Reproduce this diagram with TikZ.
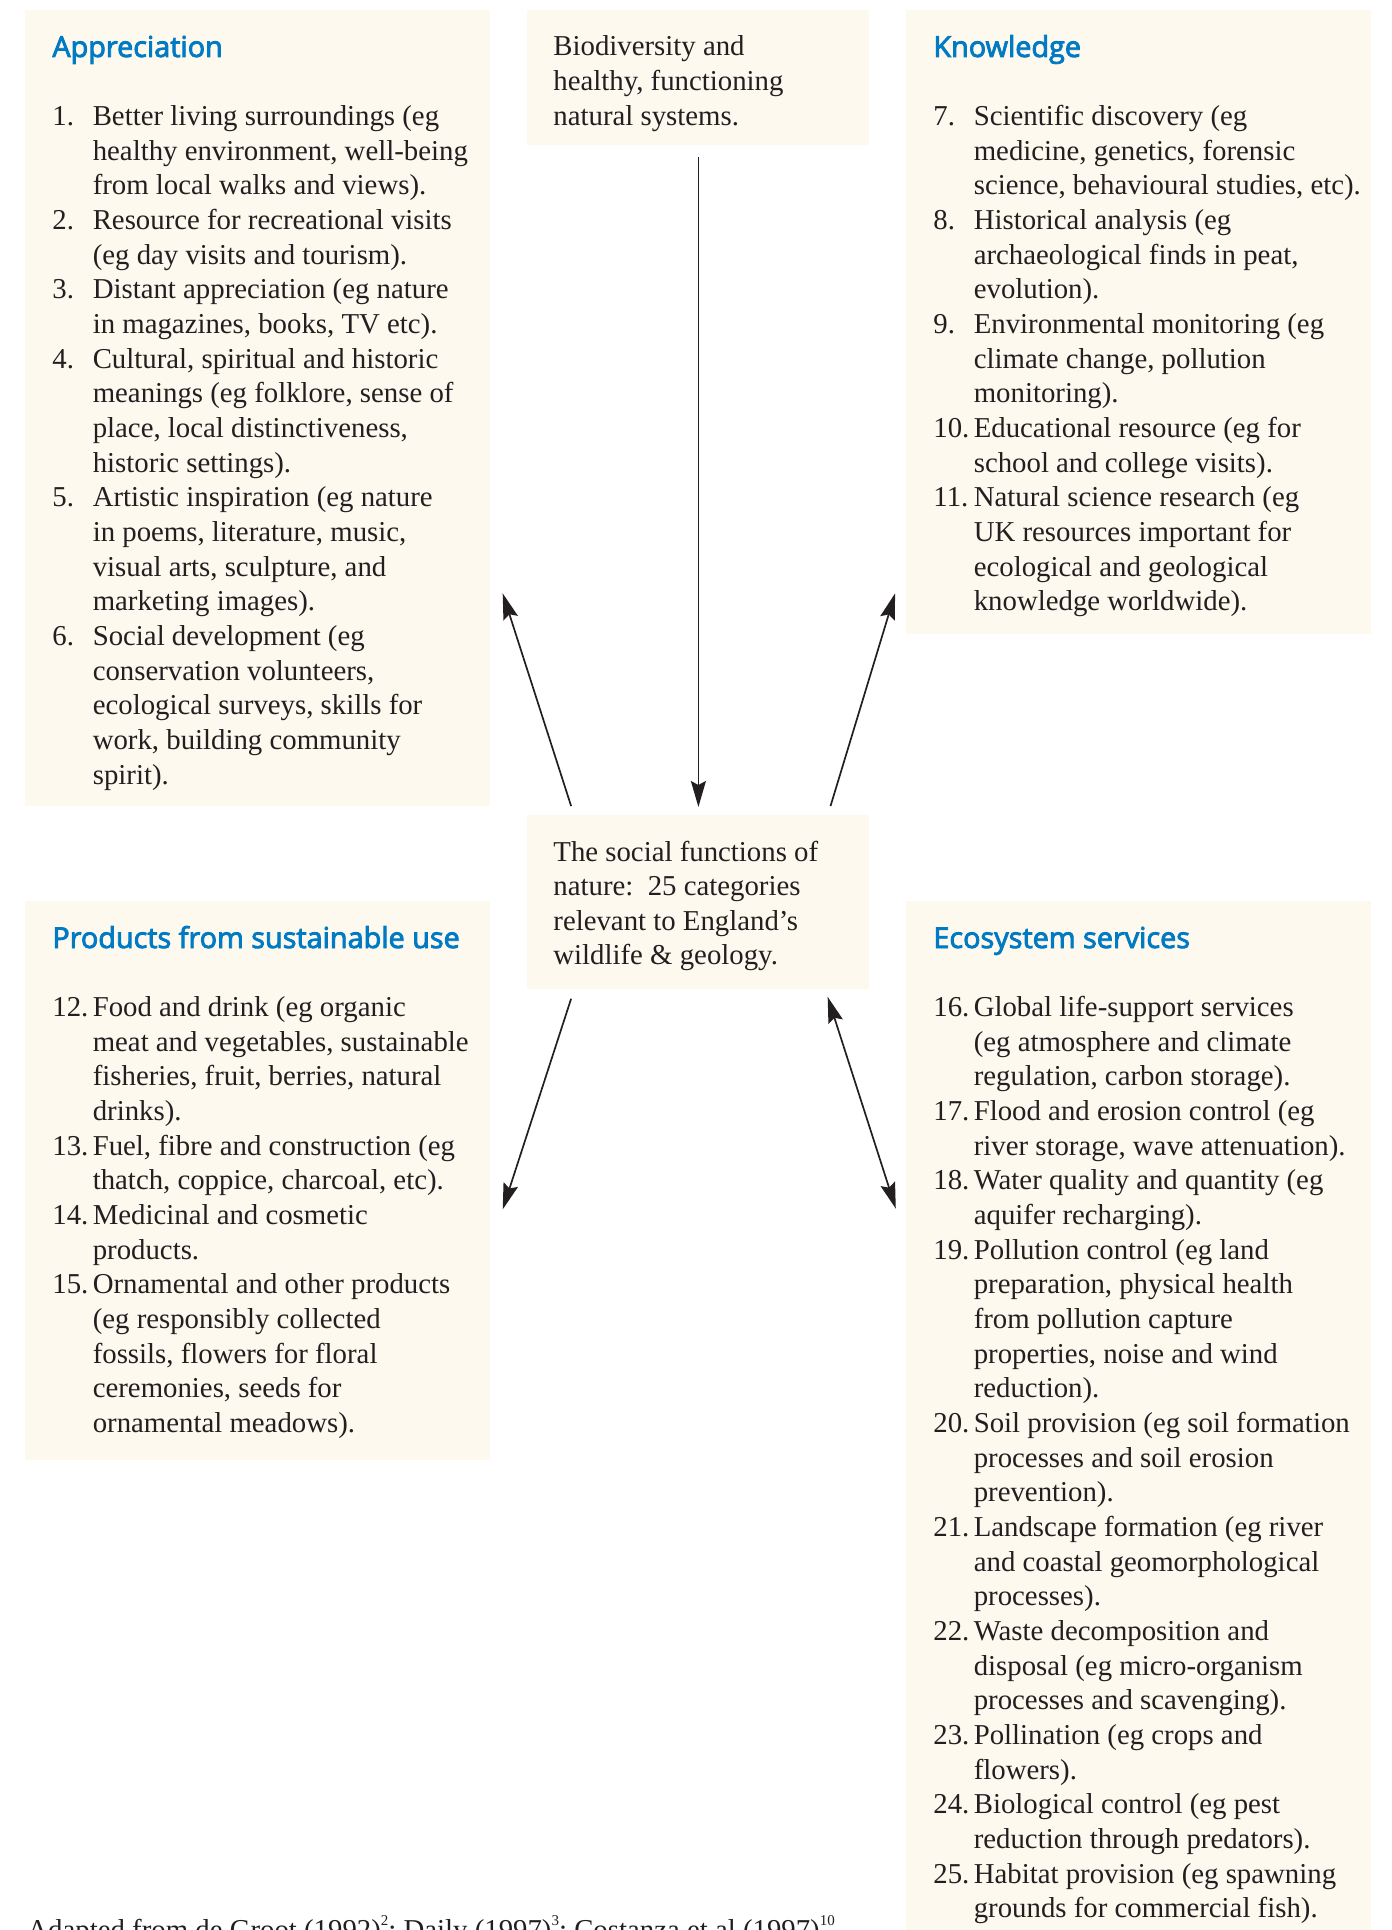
\documentclass[tikz,border=0pt]{standalone}
\usepackage{fontspec}
\setmainfont{Liberation Serif}
\newfontfamily\headfont{Open Sans}[FakeBold=3]
\usetikzlibrary{arrows.meta}

\definecolor{cream}{RGB}{253,249,239}
\definecolor{headblue}{RGB}{0,122,195}
\definecolor{ink}{RGB}{35,31,32}

\newcommand{\bodyfont}{\fontsize{14.4}{17.33}\selectfont}
\newcommand{\listhead}[1]{\multicolumn{2}{@{}l@{}}{\headfont\color{headblue}#1}\\[17pt]}
\newcommand{\refnum}[1]{\raisebox{7pt}{\fontsize{7.5}{8}\selectfont#1}}

\begin{document}
\begin{tikzpicture}[x=0.5pt,y=-0.5pt]
\tikzset{box/.style = {fill=cream, inner sep=0, anchor=north west}}
\tikzset{txt/.style = {inner sep=0, anchor=base west, text=ink, font=\bodyfont}}
\tikzset{edge/.style = {->, >={Stealth[length=13pt,width=7.5pt,inset=2pt]}, line width=0.85pt, draw=ink}}
\useasboundingbox (0,0) rectangle (1391,1930);
\clip (0,0) rectangle (1391,1930);
% boxes
\node[box, minimum width=232.5pt, minimum height=398pt] (appr) at (25,10) {};
\node[box, minimum width=171pt, minimum height=67.5pt] (bio) at (527,10) {};
\node[box, minimum width=232.25pt, minimum height=312pt] (know) at (906,10) {};
\node[box, minimum width=171pt, minimum height=87pt] (soc) at (527,815) {};
\node[box, minimum width=232.5pt, minimum height=279.5pt] (prod) at (25,901) {};
\node[box, minimum width=232.25pt, minimum height=515pt] (eco) at (906,901) {};
% texts
\node[txt] (bio-txt) at (553,56) {\begin{tabular}[t]{@{}l@{}}
Biodiversity and\\ healthy, functioning\\ natural systems.
\end{tabular}};
\node[txt] (soc-txt) at (553,861) {\begin{tabular}[t]{@{}l@{}}
The social functions of\\ nature:\ \ 25 categories\\ relevant to England’s\\ wildlife \& geology.
\end{tabular}};
\node[txt] (appr-txt) at (52,57) {\begin{tabular}[t]{@{}p{20.2pt}@{}l@{}}
\listhead{Appreciation}
1. & Better living surroundings (eg\\
   & healthy environment, well-being\\
   & from local walks and views).\\
2. & Resource for recreational visits\\
   & (eg day visits and tourism).\\
3. & Distant appreciation (eg nature\\
   & in magazines, books, TV etc).\\
4. & Cultural, spiritual and historic\\
   & meanings (eg folklore, sense of\\
   & place, local distinctiveness,\\
   & historic settings).\\
5. & Artistic inspiration (eg nature\\
   & in poems, literature, music,\\
   & visual arts, sculpture, and\\
   & marketing images).\\
6. & Social development (eg\\
   & conservation volunteers,\\
   & ecological surveys, skills for\\
   & work, building community\\
   & spirit).
\end{tabular}};
\node[txt] (know-txt) at (933,57) {\begin{tabular}[t]{@{}p{20.2pt}@{}l@{}}
\listhead{Knowledge}
7. & Scientific discovery (eg\\
   & medicine, genetics, forensic\\
   & science, behavioural studies, etc).\\
8. & Historical analysis (eg\\
   & archaeological finds in peat,\\
   & evolution).\\
9. & Environmental monitoring (eg\\
   & climate change, pollution\\
   & monitoring).\\
10. & Educational resource (eg for\\
   & school and college visits).\\
11. & Natural science research (eg\\
   & UK resources important for\\
   & ecological and geological\\
   & knowledge worldwide).
\end{tabular}};
\node[txt] (prod-txt) at (52,948) {\begin{tabular}[t]{@{}p{20.2pt}@{}l@{}}
\listhead{Products from sustainable use}
12. & Food and drink (eg organic\\
   & meat and vegetables, sustainable\\
   & fisheries, fruit, berries, natural\\
   & drinks).\\
13. & Fuel, fibre and construction (eg\\
   & thatch, coppice, charcoal, etc).\\
14. & Medicinal and cosmetic\\
   & products.\\
15. & Ornamental and other products\\
   & (eg responsibly collected\\
   & fossils, flowers for floral\\
   & ceremonies, seeds for\\
   & ornamental meadows).
\end{tabular}};
\node[txt] (eco-txt) at (933,948) {\begin{tabular}[t]{@{}p{20.2pt}@{}l@{}}
\listhead{Ecosystem services}
16. & Global life-support services\\
   & (eg atmosphere and climate\\
   & regulation, carbon storage).\\
17. & Flood and erosion control (eg\\
   & river storage, wave attenuation).\\
18. & Water quality and quantity (eg\\
   & aquifer recharging).\\
19. & Pollution control (eg land\\
   & preparation, physical health\\
   & from pollution capture\\
   & properties, noise and wind\\
   & reduction).\\
20. & Soil provision (eg soil formation\\
   & processes and soil erosion\\
   & prevention).\\
21. & Landscape formation (eg river\\
   & and coastal geomorphological\\
   & processes).\\
22. & Waste decomposition and\\
   & disposal (eg micro-organism\\
   & processes and scavenging).\\
23. & Pollination (eg crops and\\
   & flowers).\\
24. & Biological control (eg pest\\
   & reduction through predators).\\
25. & Habitat provision (eg spawning\\
   & grounds for commercial fish).
\end{tabular}};
\node[txt] (source) at (27,1939) {Adapted from de Groot (1992)\refnum{2}; Daily (1997)\refnum{3}; Costanza et al (1997)\refnum{10}};
% arrows
\draw[edge, shorten <=5.5pt, shorten >=4pt] (bio.south) -- (soc.north);
\draw[edge, shorten <=4.7pt, shorten >=19.4pt] ([xshift=23.5pt]soc.north west) -- ([yshift=-74pt]appr.east);
\draw[edge, shorten <=4.7pt, shorten >=18.8pt] ([xshift=-21pt]soc.north east) -- ([yshift=-117.5pt]know.west);
\draw[edge, shorten <=4.7pt, shorten >=19.3pt] ([xshift=23.5pt]soc.south west) -- ([yshift=-32.6pt]prod.east);
\draw[edge, <->, shorten <=3.7pt, shorten >=16.7pt] ([xshift=-22.2pt]soc.south east) -- ([yshift=88pt]eco.west);
\end{tikzpicture}
\end{document}
